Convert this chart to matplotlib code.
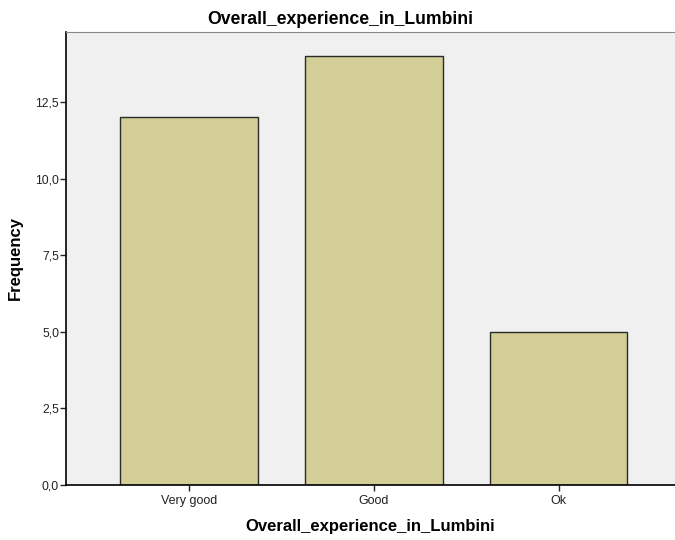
import matplotlib
matplotlib.use("Agg")
import matplotlib.pyplot as plt
from matplotlib.ticker import FuncFormatter

categories = ["Very good", "Good", "Ok"]
counts = [12, 14, 5]
y_ticks = [0, 2.5, 5, 7.5, 10, 12.5]

plt.rcParams["font.family"] = ["Liberation Sans", "DejaVu Sans"]

fig = plt.figure(figsize=(6.75, 5.4), dpi=100)
ax = fig.add_axes([66 / 675, 1 - 485 / 540, 1 - 66 / 675, (485 - 32) / 540])
ax.set_facecolor("#F0F0F0")

x = range(len(categories))
ax.bar(x, counts, width=0.746, color="#D3CE97", edgecolor="#2a2a2a", linewidth=1.0, zorder=2)

ax.set_xlim(-0.665, 2.63)
ax.set_ylim(0, 14.78)
ax.set_xticks(list(x))
ax.set_xticklabels(categories, fontsize=9)
ax.set_yticks(y_ticks)
ax.yaxis.set_major_formatter(FuncFormatter(lambda v, p: f"{v:.1f}".replace(".", ",")))
ax.tick_params(axis="y", labelsize=8.7, length=4, width=1, pad=1, colors="#222222")
ax.tick_params(axis="x", length=4, width=1, pad=3, colors="#222222")

ax.spines["right"].set_visible(False)
ax.spines["top"].set_color("#888888")
ax.spines["left"].set_linewidth(1.2)
ax.spines["bottom"].set_linewidth(1.2)

# title is centred on the figure, not the axes
fig.text(340 / 675, 1 - 19 / 540, "Overall_experience_in_Lumbini", fontsize=12.7,
         fontweight="bold", ha="center", va="center")
ax.set_xlabel("Overall_experience_in_Lumbini", fontsize=12, fontweight="bold", labelpad=9)
ax.set_ylabel("Frequency", fontsize=12, fontweight="bold", labelpad=9)

fig.savefig("out.png", dpi=100)
